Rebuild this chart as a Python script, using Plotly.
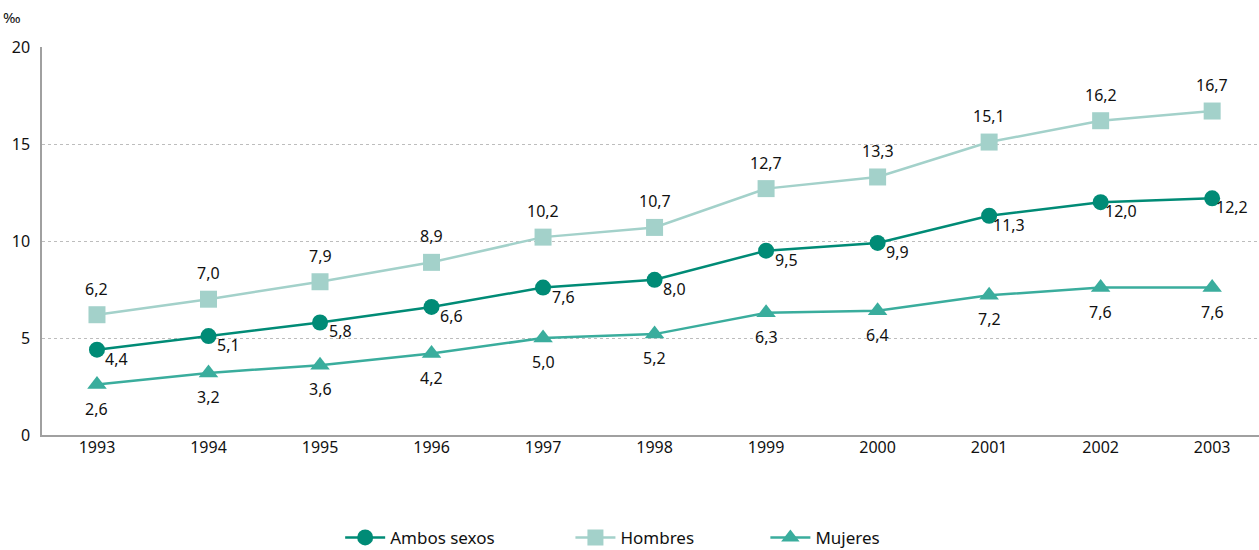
import plotly.graph_objects as go

years = [1993, 1994, 1995, 1996, 1997, 1998, 1999, 2000, 2001, 2002, 2003]
ambos = [4.4, 5.1, 5.8, 6.6, 7.6, 8.0, 9.5, 9.9, 11.3, 12.0, 12.2]
hombres = [6.2, 7.0, 7.9, 8.9, 10.2, 10.7, 12.7, 13.3, 15.1, 16.2, 16.7]
mujeres = [2.6, 3.2, 3.6, 4.2, 5.0, 5.2, 6.3, 6.4, 7.2, 7.6, 7.6]
y_ticks = [0, 5, 10, 15, 20]

C_AMB = "#008b76"
C_HOM = "#a3d1ca"
C_MUJ = "#3aad9d"
FONT = "Noto Sans"
TXT = "#111111"
NB = "\u00a0"

def fmt(v):
    return f"{v:.1f}".replace(".", ",")

fig = go.Figure()
fig.add_trace(go.Scatter(x=years, y=ambos, name="Ambos sexos" + NB * 16, mode="lines+markers",
                         line=dict(color=C_AMB, width=2.5),
                         marker=dict(symbol="circle", size=16, color=C_AMB)))
fig.add_trace(go.Scatter(x=years, y=hombres, name="Hombres" + NB * 15, mode="lines+markers",
                         line=dict(color=C_HOM, width=2.5),
                         marker=dict(symbol="square", size=17, color=C_HOM)))
fig.add_trace(go.Scatter(x=years, y=mujeres, name="Mujeres", mode="lines+markers",
                         line=dict(color=C_MUJ, width=2.5),
                         marker=dict(symbol="triangle-up", size=17, color=C_MUJ)))

ann = []
for x, v in zip(years, ambos):
    ann.append(dict(x=x, y=v, text=fmt(v), showarrow=False, xshift=20, yshift=-9,
                    font=dict(family=FONT, size=16, color=TXT)))
for x, v in zip(years, hombres):
    ann.append(dict(x=x, y=v, text=fmt(v), showarrow=False, yshift=26,
                    font=dict(family=FONT, size=16, color=TXT)))
for x, v in zip(years, mujeres):
    ann.append(dict(x=x, y=v, text=fmt(v), showarrow=False, yshift=-24,
                    font=dict(family=FONT, size=16, color=TXT)))
ann.append(dict(xref="paper", yref="paper", x=-0.016, y=1.077, xanchor="right", yanchor="middle",
                text="‰", showarrow=False, font=dict(family=FONT, size=15, color=TXT)))

fig.update_layout(
    width=1259, height=550,
    margin=dict(l=42, r=0, t=47, b=115),
    paper_bgcolor="white", plot_bgcolor="white",
    font=dict(family=FONT, size=16, color=TXT),
    annotations=ann,
    showlegend=True,
    legend=dict(orientation="h", x=0.245, xanchor="left", yref="container",
                y=0.022, yanchor="middle",
                font=dict(family=FONT, size=17, color=TXT), itemwidth=40),
    xaxis=dict(range=[1992.507, 2003.42], tickmode="array", tickvals=years,
               ticktext=[str(y) for y in years], showgrid=False, zeroline=False,
               showline=True, linecolor="#a0a0a0", linewidth=1.5, ticks="",
               automargin=False, ticklabelstandoff=-3,
               tickfont=dict(family=FONT, size=16)),
    yaxis=dict(range=[0, 20], tickvals=y_ticks, showgrid=True, gridcolor="#bdbdbd",
               griddash="dot", gridwidth=1, zeroline=False, showline=True,
               linecolor="#a0a0a0", linewidth=1.5, ticks="", ticklabelstandoff=7,
               automargin=False, tickfont=dict(family=FONT, size=16)),
)

fig.write_html("out.html", config={"displayModeBar": False},
               post_script="document.body.style.margin='0';")
